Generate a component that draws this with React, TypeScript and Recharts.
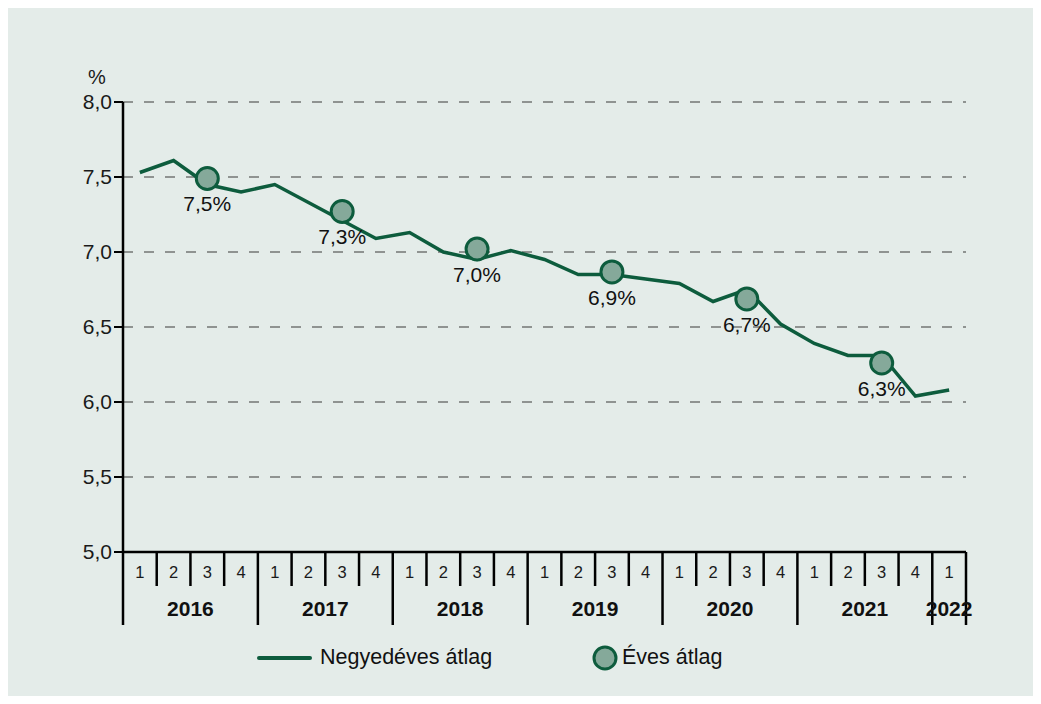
import React from 'react';
import { ComposedChart, Line, XAxis, YAxis, CartesianGrid, Legend, LabelList } from 'recharts';

const quarters = ['1','2','3','4','1','2','3','4','1','2','3','4','1','2','3','4','1','2','3','4','1','2','3','4','1'];
const years = ['2016','2016','2016','2016','2017','2017','2017','2017','2018','2018','2018','2018','2019','2019','2019','2019','2020','2020','2020','2020','2021','2021','2021','2021','2022'];
const quarterly = [7.53, 7.61, 7.45, 7.40, 7.45, 7.33, 7.21, 7.09, 7.13, 7.00, 6.95, 7.01, 6.95, 6.85, 6.85, 6.82, 6.79, 6.67, 6.75, 6.52, 6.39, 6.31, 6.31, 6.04, 6.08];
const annual = [null, null, 7.49, null, null, null, 7.27, null, null, null, 7.02, null, null, null, 6.867, null, null, null, 6.687, null, null, null, 6.26, null, null];
const yTicks = [5.0, 5.5, 6.0, 6.5, 7.0, 7.5, 8.0];

const data = quarters.map((q, i) => ({ q: `${years[i]}-${q}`, quarter: q, year: years[i], quarterly: quarterly[i], annual: annual[i] }));

const GREEN = '#0d5c3d';
const MARKER_FILL = '#85a99a';
const FONT = '"Liberation Sans", Arial, sans-serif';
const PLOT_W = 843;
const HALF = PLOT_W / quarters.length / 2;

const fmt = (v: number) => v.toFixed(1).replace('.', ',');

const XTick = (props: any) => {
  const { x, y, payload } = props;
  const i = payload.index;
  const d = data[i];
  const last = i === data.length - 1;
  const yearEnd = last || data[i + 1].year !== d.year;
  const yearStart = i === 0 || data[i - 1].year !== d.year;
  let count = 0;
  if (yearStart) {
    for (let k = i; k < data.length && data[k].year === d.year; k++) count++;
  }
  return (
    <g>
      <text x={x} y={y + 26} textAnchor="middle" fontSize={16.5} fontFamily={FONT} fill="#1a1a1a">{d.quarter}</text>
      <line x1={x + HALF} x2={x + HALF} y1={y} y2={y + (yearEnd ? 73 : 34)} stroke="#000" strokeWidth={2.5} />
      {i === 0 && <line x1={x - HALF} x2={x - HALF} y1={y} y2={y + 73} stroke="#000" strokeWidth={2.5} />}
      {yearStart && (
        <text x={x + (count - 1) * HALF} y={y + 64} textAnchor="middle" fontSize={21} fontWeight="bold" fontFamily={FONT} fill="#111">{d.year}</text>
      )}
    </g>
  );
};

const LegendContent = () => (
  <div style={{ position: 'relative', width: 1041, height: 50, fontFamily: FONT, fontSize: 21.5, color: '#111' }}>
    <div style={{ position: 'absolute', left: 257, top: 24, width: 55, height: 4, background: GREEN, borderRadius: 2 }} />
    <span style={{ position: 'absolute', left: 320, top: 12, lineHeight: '26px' }}>Negyedéves átlag</span>
    <svg style={{ position: 'absolute', left: 591, top: 12 }} width={28} height={28}>
      <circle cx={14} cy={14} r={11} fill={MARKER_FILL} stroke={GREEN} strokeWidth={3} />
    </svg>
    <span style={{ position: 'absolute', left: 622, top: 12, lineHeight: '26px' }}>Éves átlag</span>
  </div>
);

export default function App() {
  return (
    <div style={{ position: 'relative', width: 1041, height: 704, margin: -8, background: '#ffffff' }}>
      <div style={{ position: 'absolute', left: 7, top: 7, width: 1027, height: 690, background: '#e4ece9' }} />
      <div style={{ position: 'absolute', left: 0, top: 0 }}>
        <ComposedChart width={1041} height={704} data={data} margin={{ top: 102, right: 75, bottom: 22, left: 63 }}>
          <CartesianGrid horizontal vertical={false} stroke="#3a3a3a" strokeDasharray="10 11" strokeWidth={1.1} />
          <XAxis dataKey="q" scale="band" interval={0} tick={<XTick />} tickLine={false} tickSize={0} tickMargin={0} height={80} axisLine={{ stroke: '#000', strokeWidth: 2.5 }} />
          <YAxis domain={[5, 8]} ticks={yTicks} interval={0} width={60} tickFormatter={fmt}
            tick={{ fontSize: 21, fontFamily: FONT, fill: '#1a1a1a' }} tickSize={9} tickMargin={2}
            tickLine={{ stroke: '#000', strokeWidth: 2 }} axisLine={{ stroke: '#000', strokeWidth: 2.5 }}
            label={{ value: '%', position: 'top', offset: 18, dx: 4, fontSize: 20, fontFamily: FONT, fill: '#1a1a1a' }} />
          <YAxis yAxisId="r" orientation="right" domain={[5, 8]} width={0} tick={false} tickLine={false} axisLine={{ stroke: '#000', strokeWidth: 2.5 }} />
          <Legend verticalAlign="bottom" wrapperStyle={{ left: 0, width: 1041 }} content={<LegendContent />} />
          <Line dataKey="quarterly" stroke={GREEN} strokeWidth={3.5} dot={false} isAnimationActive={false} legendType="plainline" />
          <Line dataKey="annual" stroke="none" isAnimationActive={false} connectNulls={false}
            dot={{ r: 11, fill: MARKER_FILL, stroke: GREEN, strokeWidth: 3 }} activeDot={false}>
            <LabelList dataKey="annual" position="bottom" offset={18} formatter={(v: any) => (v == null ? '' : `${fmt(v)}%`)}
              style={{ fontSize: 21, fontFamily: FONT, fill: '#111' }} />
          </Line>
        </ComposedChart>
      </div>
    </div>
  );
}
